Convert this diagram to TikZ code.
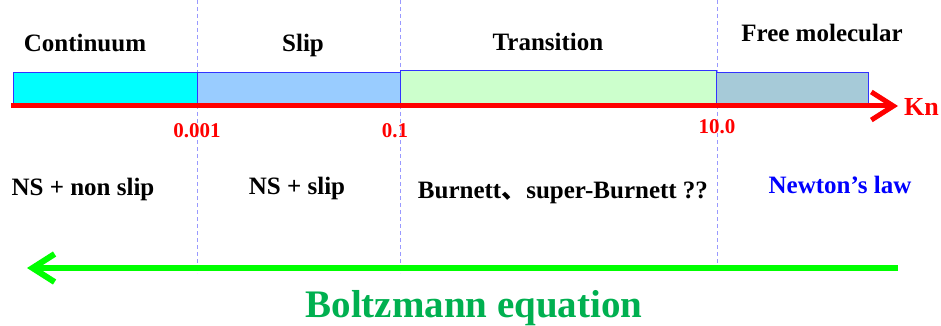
\documentclass[tikz,border=0pt]{standalone}
\usepackage{fontspec}
\setmainfont{Liberation Serif}
\newfontfamily\cjk{Noto Sans CJK SC}
\usetikzlibrary{arrows.meta}
\definecolor{barblue}{HTML}{3333FF}
\definecolor{cyanfill}{HTML}{00FFFF}
\definecolor{slipfill}{HTML}{99CCFF}
\definecolor{transfill}{HTML}{CCFFCC}
\definecolor{freefill}{HTML}{A6CAD8}
\definecolor{axisred}{HTML}{FF0000}
\definecolor{arrowgreen}{HTML}{00FF00}
\definecolor{textgreen}{HTML}{00B050}
\definecolor{lawblue}{HTML}{0000FF}
\definecolor{dashblue}{HTML}{9999FF}
\begin{document}
\begin{tikzpicture}[x=1pt,y=-1pt,
  bar/.style={draw=barblue, line width=1pt, inner sep=0pt, anchor=north west},
  lbl/.style={font=\fontsize{25}{30}\selectfont\bfseries, anchor=base, inner sep=0pt},
  ticklbl/.style={font=\fontsize{21}{25}\selectfont\bfseries, text=axisred, anchor=base, inner sep=0pt},
  divider/.style={dashblue, line width=0.8pt, dash pattern=on 4pt off 3pt}]
\useasboundingbox (0,0) rectangle (941,326);
% dashed dividers
\coordinate (d1t) at (197,0); \coordinate (d1b) at (197,273);
\coordinate (d2t) at (400,0); \coordinate (d2b) at (400,273);
\coordinate (d3t) at (717,0); \coordinate (d3b) at (717,263);
\draw[divider] (d1t) -- (d1b);
\draw[divider] (d2t) -- (d2b);
\draw[divider] (d3t) -- (d3b);
% bars
\node[bar, fill=cyanfill, minimum width=184pt, minimum height=31pt] (bcont) at (13,72) {};
\node[bar, fill=slipfill, minimum width=203pt, minimum height=31pt] (bslip) at (197,72) {};
\node[bar, fill=transfill, minimum width=316pt, minimum height=33pt] (btrans) at (400,70) {};
\node[bar, fill=freefill, minimum width=152pt, minimum height=31pt] (bfree) at (716,72) {};
% red axis
\coordinate (axs) at (11,106);
\coordinate (axe) at (898,106);
\draw[axisred, line width=5pt, -{Straight Barb[length=22pt, width=28pt, line width=5pt]}] (axs) -- (axe);
\node[font=\fontsize{26}{30}\selectfont\bfseries, text=axisred, anchor=base west, inner sep=0pt] (kn) at (904,115) {Kn};
% tick labels
\node[ticklbl] (t1) at (197,137) {0.001};
\node[ticklbl] (t2) at (395,137) {0.1};
\node[ticklbl] (t3) at (717,133) {10.0};
% top labels
\node[lbl] (lcont) at (85,52) {Continuum};
\node[lbl] (lslip) at (303,52) {Slip};
\node[lbl] (ltrans) at (548,51) {Transition};
\node[lbl] (lfree) at (822,42) {Free molecular};
% middle labels
\node[lbl] (m1) at (83,195) {NS + non slip};
\node[lbl] (m2) at (297,194) {NS + slip};
\node[lbl] (m3) at (563,198) {Burnett{\cjk 、}super-Burnett ??};
\node[lbl, text=lawblue] (m4) at (840,193) {Newton’s law};
% green arrow
\coordinate (gs) at (898,268);
\coordinate (ge) at (27,268);
\draw[arrowgreen, line width=6pt, -{Straight Barb[length=22pt, width=28pt, line width=6pt]}] (gs) -- (ge);
\node[font=\fontsize{39}{44}\selectfont\bfseries, text=textgreen, anchor=base, inner sep=0pt] (boltz) at (474,317) {Boltzmann equation};
\end{tikzpicture}
\end{document}
